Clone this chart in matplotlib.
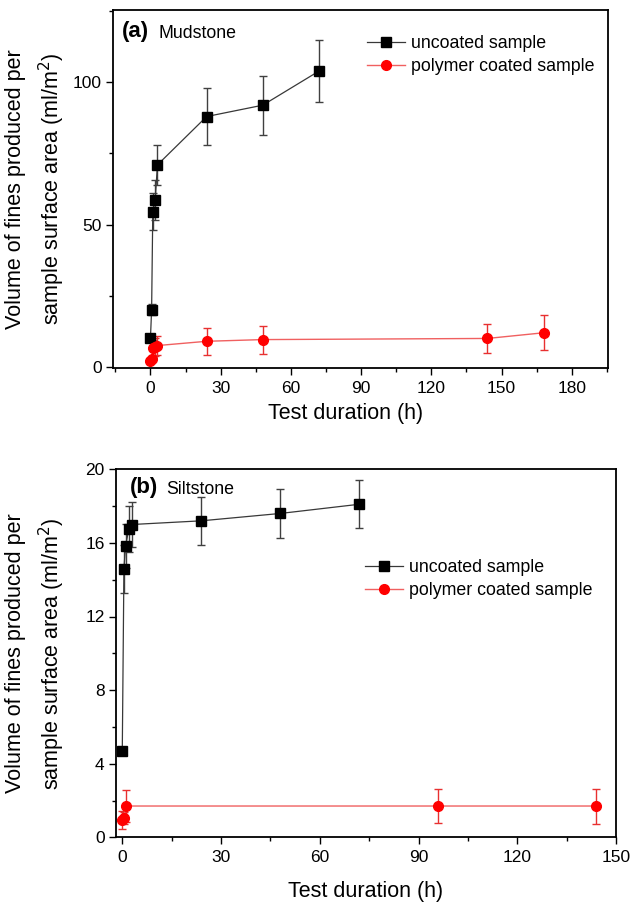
import matplotlib
matplotlib.use("Agg")
import matplotlib.pyplot as plt
from matplotlib.lines import Line2D
from matplotlib.ticker import MultipleLocator

plt.rcParams['font.family'] = ['Liberation Sans', 'DejaVu Sans']

# (a) Mudstone
mud_unc_t = [0, 0.5, 1, 2, 3, 24, 48, 72]
mud_unc_v = [10.0, 20.0, 54.5, 58.5, 71.0, 88.0, 92.0, 104.0]
mud_unc_e = [0.6, 2.0, 6.5, 7.0, 7.0, 10.0, 10.4, 11.0]
mud_coat_t = [0, 0.5, 1, 2, 3, 24, 48, 144, 168]
mud_coat_v = [2.1, 2.8, 6.5, 6.8, 7.4, 8.9, 9.5, 9.9, 11.9]
mud_coat_e = [0.8, 1.0, 3.0, 3.2, 3.2, 4.7, 4.9, 5.2, 6.1]

# (b) Siltstone
silt_unc_t = [0, 0.5, 1, 2, 3, 24, 48, 72]
silt_unc_v = [4.7, 14.6, 15.85, 16.75, 17.0, 17.2, 17.6, 18.1]
silt_unc_e = [0.1, 1.3, 1.2, 1.25, 1.2, 1.3, 1.33, 1.3]
silt_coat_t = [0, 0.5, 1, 96, 144]
silt_coat_v = [0.95, 1.05, 1.7, 1.7, 1.7]
silt_coat_e = [0.5, 0.3, 0.85, 0.9, 0.95]

ylabel = "Volume of fines produced per\nsample surface area (ml/m$^2$)"
W, H = 630, 906

fig = plt.figure(figsize=(6.3, 9.06), dpi=100)
ax1 = fig.add_axes([113 / W, 1 - 368 / H, 495 / W, 358 / H])
ax2 = fig.add_axes([115.7 / W, 1 - 837.3 / H, 500.3 / W, 368 / H])

unc_style = dict(color='#383838', lw=0.9, marker='s', ms=6.5,
                 mfc='black', mec='black')
coat_style = dict(color='#f06060', lw=1.0, marker='o', ms=7,
                  mfc='red', mec='red')


def draw(ax, ut, uv, ue, ct, cv, ce):
    ax.errorbar(ut, uv, yerr=ue, ecolor='#404040', elinewidth=1.0,
                capsize=3, capthick=1.0, zorder=3, **unc_style)
    ax.errorbar(ct, cv, yerr=ce, ecolor='#e83030', elinewidth=1.0,
                capsize=3, capthick=1.0, zorder=3, **coat_style)
    for s in ax.spines.values():
        s.set_linewidth(1.3)
    ax.tick_params(which='both', direction='out', labelsize=12.5, width=1.0,
                   top=False, right=False)
    ax.tick_params(which='major', length=5)
    ax.tick_params(which='minor', length=3)
    ax.tick_params(axis='x', pad=4.5)
    ax.tick_params(axis='y', pad=3)
    ax.set_xlabel('Test duration (h)', fontsize=15.5)
    ax.set_ylabel(ylabel, fontsize=15.5, linespacing=1.5)


def legend(ax, x, y):
    handles = [Line2D([], [], **unc_style), Line2D([], [], **coat_style)]
    ax.legend(handles, ['uncoated sample', 'polymer coated sample'],
              loc='upper left', bbox_to_anchor=(x / W, 1 - y / H),
              bbox_transform=fig.transFigure, frameon=False, fontsize=12.8,
              handlelength=2.15, handletextpad=0.35, labelspacing=0.33,
              borderpad=0, borderaxespad=0)


draw(ax1, mud_unc_t, mud_unc_v, mud_unc_e, mud_coat_t, mud_coat_v, mud_coat_e)
ax1.set_xlim(-16, 195.5)
ax1.set_ylim(-0.5, 125.5)
ax1.xaxis.set_major_locator(MultipleLocator(30))
ax1.xaxis.set_minor_locator(MultipleLocator(15))
ax1.yaxis.set_major_locator(MultipleLocator(50))
ax1.yaxis.set_minor_locator(MultipleLocator(25))
ax1.xaxis.set_label_coords(0.47, -0.098)
ax1.yaxis.set_label_coords(-0.093, 0.5)
fig.text(122 / W, 1 - 32 / H, '(a)', fontsize=16, fontweight='bold',
         va='center', ha='left')
fig.text(159 / W, 1 - 33 / H, 'Mudstone', fontsize=12.8, va='center', ha='left')
legend(ax1, 367, 35)

draw(ax2, silt_unc_t, silt_unc_v, silt_unc_e, silt_coat_t, silt_coat_v, silt_coat_e)
ax2.set_xlim(-2, 150)
ax2.set_ylim(0, 20)
ax2.xaxis.set_major_locator(MultipleLocator(30))
ax2.xaxis.set_minor_locator(MultipleLocator(15))
ax2.yaxis.set_major_locator(MultipleLocator(4))
ax2.yaxis.set_minor_locator(MultipleLocator(2))
ax2.xaxis.set_label_coords(0.5, -0.118)
ax2.yaxis.set_label_coords(-0.097, 0.5)
fig.text(130 / W, 1 - 488 / H, '(b)', fontsize=16, fontweight='bold',
         va='center', ha='left')
fig.text(166 / W, 1 - 489 / H, 'Siltstone', fontsize=12.8, va='center', ha='left')
legend(ax2, 365, 559)

fig.savefig('out.png', dpi=100)
